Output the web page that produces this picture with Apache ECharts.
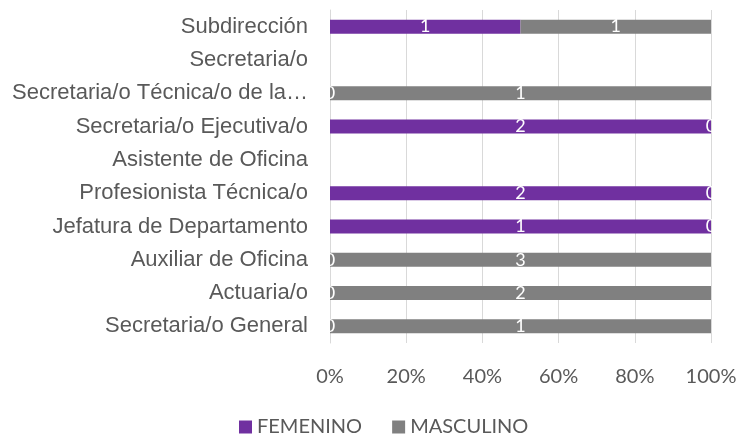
<!DOCTYPE html>
<html>
<head>
<meta charset="utf-8">
<script src="https://cdn.jsdelivr.net/npm/echarts@6/dist/echarts.min.js"></script>
<style>
  html, body { margin: 0; padding: 0; background: #fff; }
  #chart { width: 742px; height: 437px; }
</style>
</head>
<body>
<div id="chart"></div>
<script>
const categories = [
  'Subdirección',
  'Secretaria/o',
  'Secretaria/o Técnica/o de la…',
  'Secretaria/o Ejecutiva/o',
  'Asistente de Oficina',
  'Profesionista Técnica/o',
  'Jefatura de Departamento',
  'Auxiliar de Oficina',
  'Actuaria/o',
  'Secretaria/o General'
]
const femenino = [1, 0, 0, 2, 0, 2, 1, 0, 0, 0]
const masculino = [1, 0, 1, 0, 0, 0, 0, 3, 2, 1]
const tickLabels = ['0%', '20%', '40%', '60%', '80%', '100%']

// porcentaje por fila, filas sin datos quedan vacías
const pct = (arr) => arr.map((v, i) => {
  const total = femenino[i] + masculino[i]
  return total === 0 ? '-' : (v / total) * 100
})

const labelFor = (arr) => ({
  show: true,
  position: 'inside',
  color: '#fff',
  fontSize: 18,
  fontFamily: 'Lato',
  formatter: (p) => String(arr[p.dataIndex])
})

const myChart = echarts.init(document.getElementById('chart'))
myChart.setOption({
  animation: false,
  grid: { left: 330, right: 31, top: 10, bottom: 94, outerBoundsMode: 'none' },
  legend: {
    top: 417,
    left: 239,
    padding: 0,
    icon: 'rect',
    itemWidth: 13,
    itemHeight: 13,
    itemGap: 30,
    textStyle: { color: '#595959', fontSize: 20, fontFamily: 'Lato' },
    data: ['FEMENINO', 'MASCULINO']
  },
  xAxis: {
    type: 'value',
    min: 0,
    max: 100,
    interval: 20,
    axisLine: { show: false },
    axisTick: { show: false },
    splitLine: { lineStyle: { color: '#d9d9d9', width: 1 } },
    axisLabel: {
      color: '#595959',
      fontSize: 20,
      fontFamily: 'Lato',
      margin: 24,
      formatter: (v) => tickLabels[v / 20]
    }
  },
  yAxis: {
    type: 'category',
    inverse: true,
    data: categories,
    axisLine: { show: true, lineStyle: { color: '#d9d9d9' } },
    axisTick: { show: false },
    axisLabel: {
      color: '#595959',
      fontSize: 22,
      fontFamily: 'Liberation Sans',
      margin: 22
    }
  },
  series: [
    {
      name: 'FEMENINO',
      type: 'bar',
      stack: 'total',
      barWidth: 14,
      itemStyle: { color: '#7030A0' },
      label: labelFor(femenino),
      data: pct(femenino)
    },
    {
      name: 'MASCULINO',
      type: 'bar',
      stack: 'total',
      barWidth: 14,
      itemStyle: { color: '#808080' },
      label: labelFor(masculino),
      data: pct(masculino)
    }
  ]
})
</script>
</body>
</html>
